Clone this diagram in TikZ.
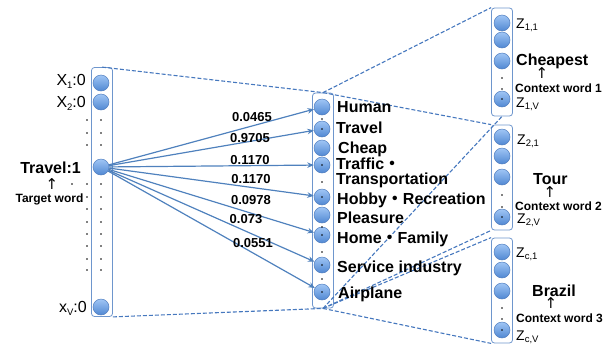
\documentclass[tikz,border=0pt]{standalone}
\usepackage{fontspec}
\setmainfont{Liberation Sans}
\newfontfamily\cjk{Noto Sans CJK JP}
\newfontfamily\dv{DejaVu Sans}
\usetikzlibrary{arrows.meta}
\definecolor{nedge}{RGB}{80,125,190}
\definecolor{ntop}{RGB}{160,198,245}
\definecolor{nbot}{RGB}{80,135,210}
\definecolor{colrect}{RGB}{110,150,205}
\definecolor{dashc}{RGB}{70,120,190}
\definecolor{arrc}{RGB}{79,129,189}
\newcommand\mysub[2]{\raisebox{-#2}{\fontsize{9.5}{9.5}\selectfont #1}}
\newcommand\mdot{{\cjk ・}}
\begin{document}
\begin{tikzpicture}[x=1pt,y=-1pt,
  neuron/.style={circle, minimum size=16pt, inner sep=0pt, draw=nedge, line width=0.5pt, top color=ntop, bottom color=nbot},
  colbox/.style={rectangle, draw=colrect, line width=0.8pt, rounded corners=3pt, inner sep=0pt, minimum width=21pt},
  lbl/.style={font=\fontsize{16}{16}\selectfont\bfseries, anchor=base west, inner sep=0pt},
  rlbl/.style={font=\fontsize{16}{16}\selectfont, anchor=base east, inner sep=0pt},
  wlbl/.style={font=\fontsize{13}{13}\selectfont\bfseries, anchor=center, inner sep=0pt},
  zl/.style={font=\fontsize{14}{14}\selectfont, anchor=base west, inner sep=0pt},
  ctx/.style={font=\fontsize{12}{12}\selectfont\bfseries, anchor=base west, inner sep=0pt},
  uparr/.style={font=\dv\fontsize{15}{15}\selectfont, anchor=center, inner sep=0pt},
  wire/.style={draw=arrc, line width=1.2pt, -{Stealth[length=6.5pt,width=5.5pt]}},
  proj/.style={draw=dashc, line width=1.1pt, dash pattern=on 4pt off 2pt}
]
\useasboundingbox (0,0) rectangle (615,346);

% column boxes
\node[colbox, minimum height=249pt] (L) at (102,192) {};
\node[colbox, minimum height=215pt] (M) at (323,200.5) {};
\node[colbox, minimum height=108pt] (C1) at (502,62) {};
\node[colbox, minimum height=105pt] (C2) at (502,177.5) {};
\node[colbox, minimum height=105pt] (C3) at (502,290.5) {};

% projection lines
\draw[proj] (L.north) -- (M.north);
\draw[proj] (L.south east) -- (M.south);
\draw[proj] (M.north) -- (C1.north west);
\draw[proj] (M.south) -- (C1.south);
\draw[proj] (M.north) -- (C2.north west);
\draw[proj] (M.south) -- (C2.south west);
\draw[proj] (M.south) -- (C3.north west);
\draw[proj] (M.south) -- (C3.south west);

% left column
\node[neuron] (x1) at (101,83) {};
\node[neuron] (x2) at (101,102) {};
\node[neuron] (trav) at (101,167) {};
\node[neuron] (xv) at (101,307) {};
\foreach \y in {120,133,145,184,197,209,222,234,246,259,270} {
  \fill (87,\y) circle (0.8);
  \fill (101,\y) circle (0.8);
}
\fill (72,184) circle (0.8);
\node[rlbl] (lx1) at (86,85) {X\mysub{1}{3pt}:0};
\node[rlbl] (lx2) at (86,107.5) {X\mysub{2}{3pt}:0};
\node[rlbl, font=\fontsize{16}{16}\selectfont\bfseries] (ltr) at (81,173) {Travel:1};
\node[uparr] (lup) at (52,184) {↑};
\node[ctx, anchor=base] (ltw) at (49.5,202) {Target word};
\node[rlbl] (lxv) at (87,312) {x\mysub{V}{3pt}:0};

% middle column
\node[neuron] (m1) at (322,107) {};
\node[neuron] (m2) at (322,129) {};
\node[neuron] (m3) at (322,148) {};
\node[neuron] (m4) at (322,165) {};
\node[neuron] (m5) at (322,197) {};
\node[neuron] (m6) at (322,215) {};
\node[neuron] (m7) at (322,235) {};
\node[neuron] (m8) at (322,265) {};
\node[neuron] (m9) at (322,292) {};
\foreach \n in {m2,m4,m5,m7,m8,m9} \fill (\n) circle (0.8);
\foreach \y in {119,182,227,252,279} \fill (322,\y) circle (0.8);
\node[lbl] (t1) at (337,112) {Human};
\node[lbl] (t2) at (336,133) {Travel};
\node[lbl] (t3) at (338,153.5) {Cheap};
\node[lbl] (t4) at (336,169) {Traffic\mdot};
\node[lbl] (t4b) at (336,184) {Transportation};
\node[lbl] (t5) at (337,204) {Hobby\mdot Recreation};
\node[lbl] (t6) at (337,223) {Pleasure};
\node[lbl] (t7) at (337,243) {Home\mdot Family};
\node[lbl] (t8) at (337,272) {Service industry};
\node[lbl] (t9) at (338,298) {Airplane};

% weighted connections
\foreach \n in {m1,m2,m4,m5,m7,m8,m9} \draw[wire] (trav) -- (\n);
\node[wlbl] (w1) at (252,117) {0.0465};
\node[wlbl] (w2) at (250,138) {0.9705};
\node[wlbl] (w3) at (250,160) {0.1170};
\node[wlbl] (w4) at (251,179) {0.1170};
\node[wlbl] (w5) at (251,200) {0.0978};
\node[wlbl] (w6) at (246,219) {0.073};
\node[wlbl] (w7) at (253,243) {0.0551};

% right column 1
\node[neuron] (a1) at (502,23) {};
\node[neuron] (a2) at (502,40) {};
\node[neuron] (a3) at (502,61) {};
\node[neuron] (a4) at (502,99) {};
\fill (a4) circle (0.8);
\fill (502,78) circle (0.8);
\fill (502,89) circle (0.8);
\node[zl] (za1) at (516,28) {Z\mysub{1,1}{2.5pt}};
\node[lbl] (cw1) at (516,65) {Cheapest};
\node[uparr] (ua1) at (542,73) {↑};
\node[ctx] (cx1) at (515,92) {Context word 1};
\node[zl] (zav) at (516,107) {Z\mysub{1,V}{2.5pt}};

% right column 2
\node[neuron] (b1) at (502,137) {};
\node[neuron] (b2) at (502,156) {};
\node[neuron] (b3) at (502,177) {};
\node[neuron] (b4) at (502,217) {};
\fill (b4) circle (0.8);
\fill (502,195) circle (0.8);
\fill (502,207) circle (0.8);
\node[zl] (zb1) at (517,144) {Z\mysub{2,1}{2.5pt}};
\node[lbl] (cw2) at (533,184) {Tour};
\node[uparr] (ub1) at (550,192) {↑};
\node[ctx] (cx2) at (515,210) {Context word 2};
\node[zl] (zbv) at (517,223) {Z\mysub{2,V}{2.5pt}};

% right column 3
\node[neuron] (c1) at (502,252) {};
\node[neuron] (c2) at (502,270) {};
\node[neuron] (c3) at (502,291) {};
\node[neuron] (c4) at (502,330) {};
\fill (c4) circle (0.8);
\fill (502,308) circle (0.8);
\fill (502,319) circle (0.8);
\node[zl] (zc1) at (516,257) {Z\mysub{c,1}{2.5pt}};
\node[lbl] (cw3) at (532,296) {Brazil};
\node[uparr] (uc1) at (551,303) {↑};
\node[ctx] (cx3) at (516,322) {Context word 3};
\node[zl] (zcv) at (516,340) {Z\mysub{c,V}{2.5pt}};
\end{tikzpicture}
\end{document}
